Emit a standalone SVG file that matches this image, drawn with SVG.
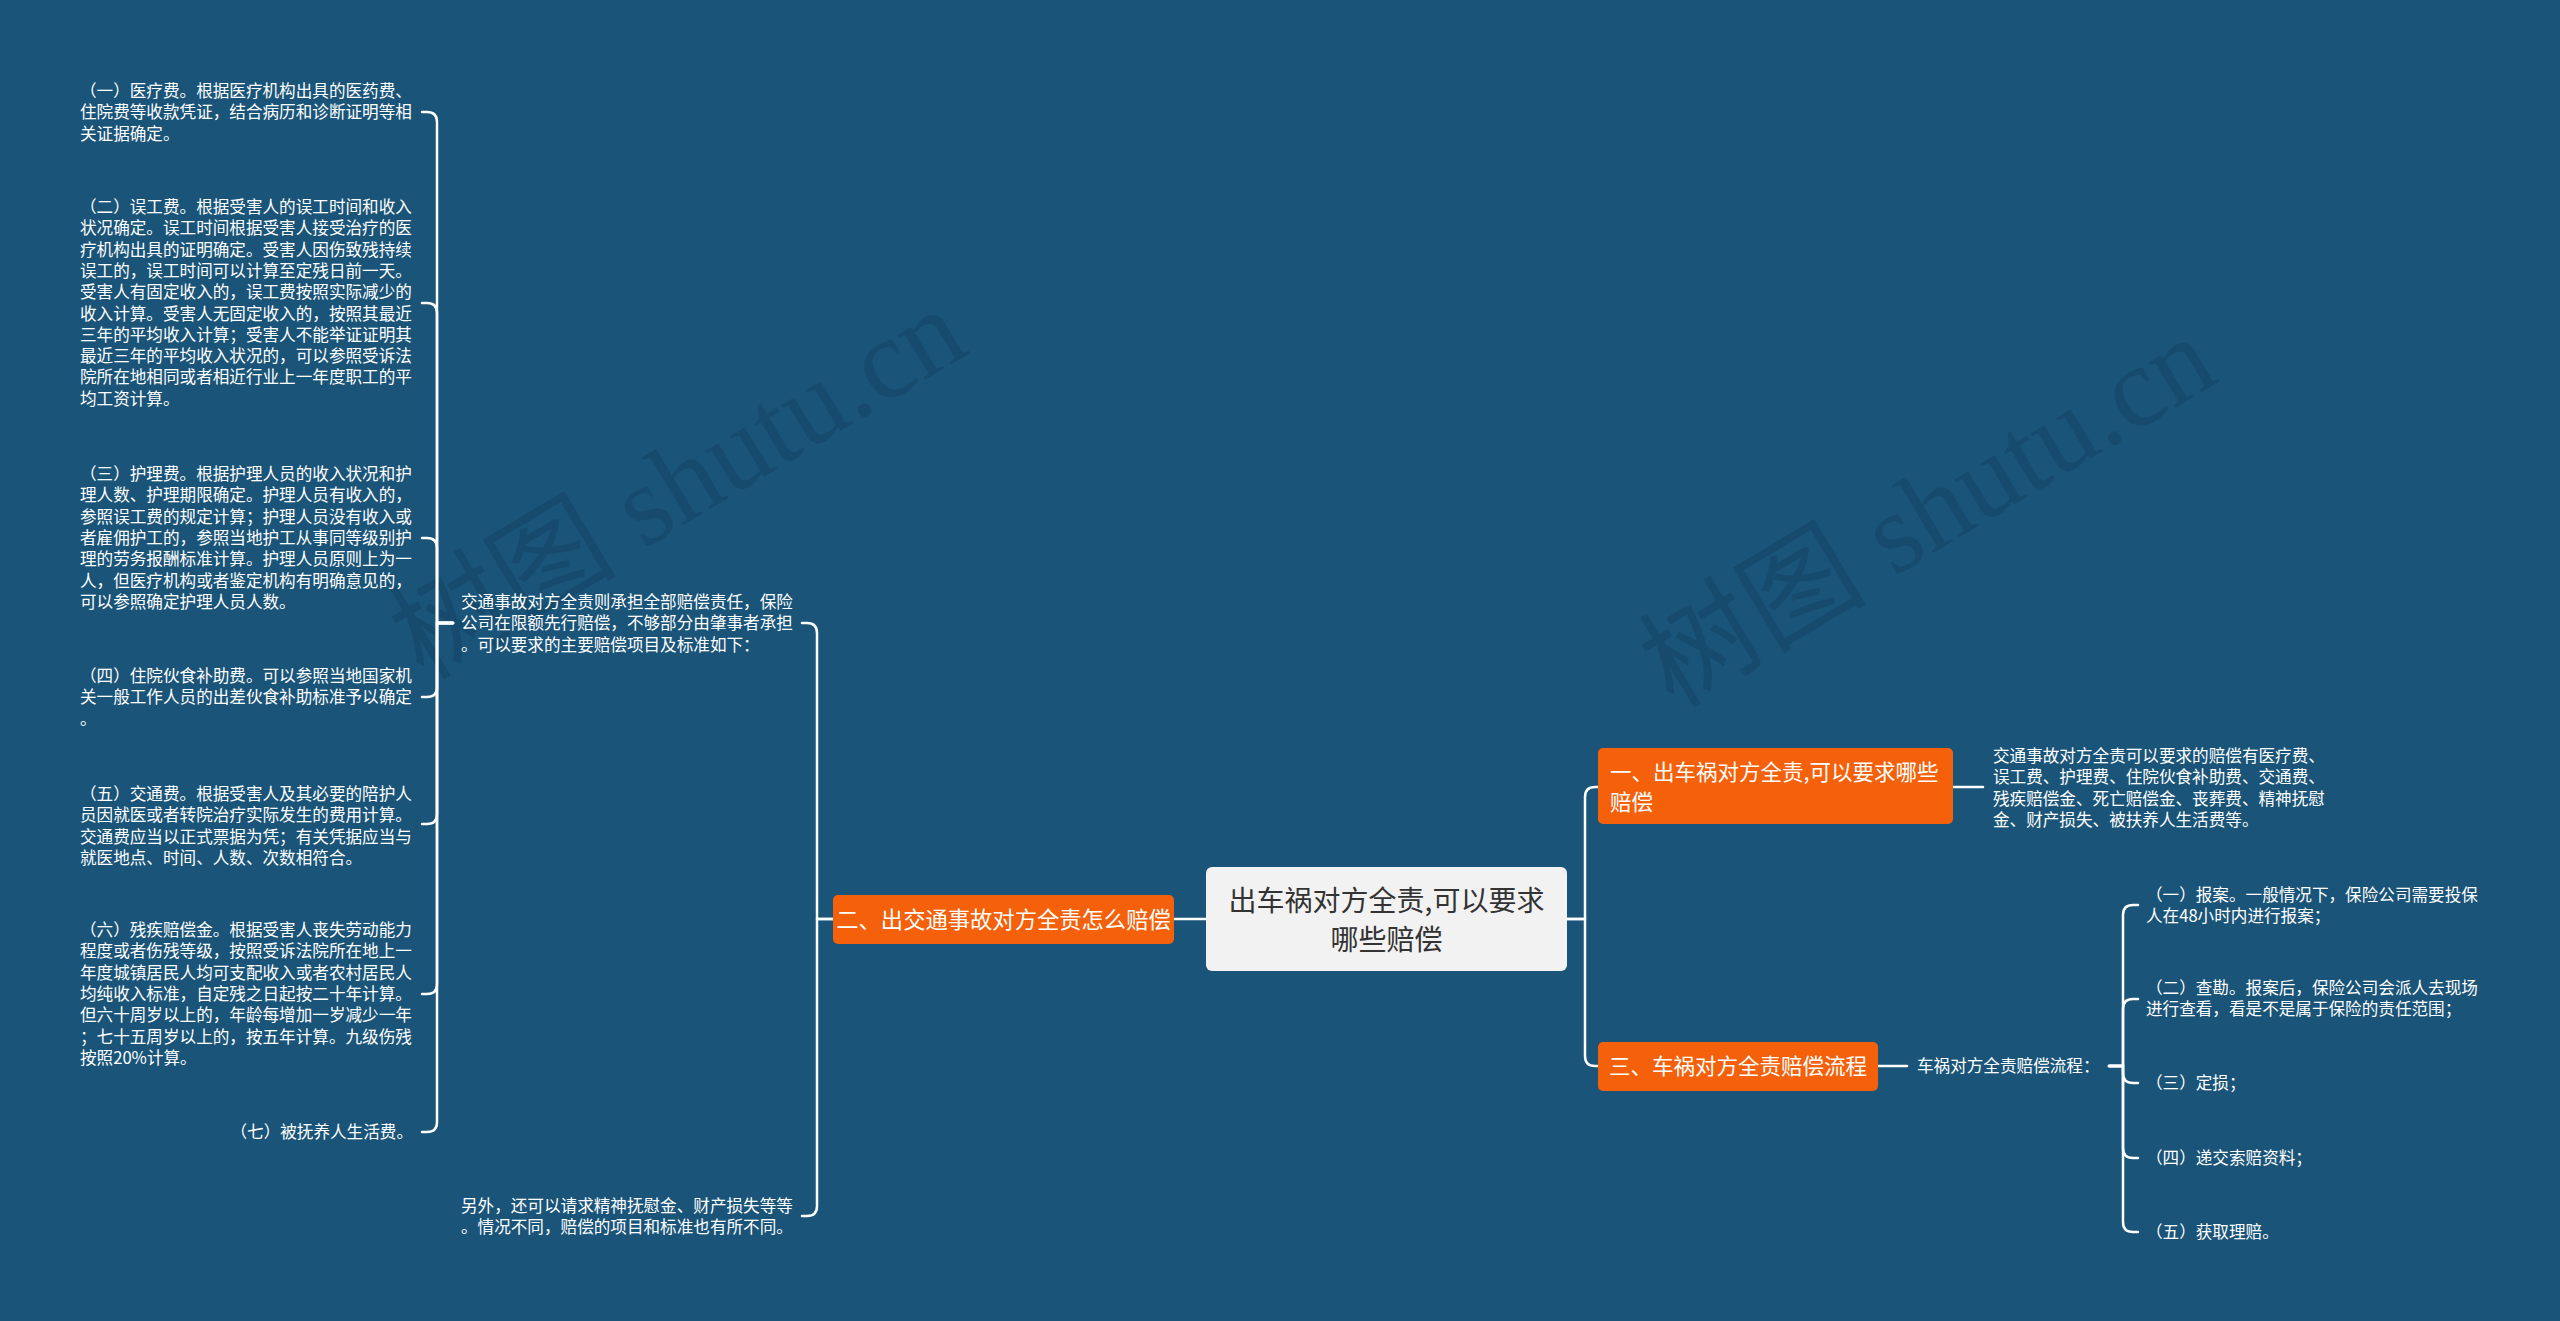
<svg xmlns="http://www.w3.org/2000/svg" width="2560" height="1321" viewBox="0 0 2560 1321">
<style>
.bg{fill:#1a5478}
.wm{fill:#174b6e;font-family:"Liberation Serif","Noto Sans CJK SC",serif;font-size:114px}
.line{fill:none;stroke:#ffffff;stroke-width:2.5;stroke-linecap:round;stroke-linejoin:round}
.leaf{fill:#ffffff;font-family:"Noto Sans CJK SC","Liberation Sans",sans-serif;font-size:16.6px}
.root-box{fill:#f2f2f2}
.root-text{fill:#333333;font-family:"Noto Sans CJK SC","Liberation Sans",sans-serif;font-size:28px}
.sub-box{fill:#f5600a}
.sub-text{fill:#ffffff;font-family:"Noto Sans CJK SC","Liberation Sans",sans-serif;font-size:21.5px}
</style>
<rect class="bg" x="0" y="0" width="2560" height="1321"/>
<g id="watermarks">
<text class="wm" text-anchor="middle" transform="translate(678,484) rotate(-31)" y="38">树图 shutu.cn</text>
<text class="wm" text-anchor="middle" transform="translate(1928,512) rotate(-31)" y="38">树图 shutu.cn</text>
</g>
<g id="connectors">
<path class="line" d="M1567 919 H1585 V797 Q1585 787 1595 787 H1598"/>
<path class="line" d="M1567 919 H1585 V1056 Q1585 1066 1595 1066 H1598"/>
<path class="line" d="M1206 919 H1174"/>
<path class="line" d="M833 919 H817 V633 Q817 623 807 623 H802"/>
<path class="line" d="M833 919 H817 V1206 Q817 1216 807 1216 H802"/>
<path class="line" d="M1953 787 H1983"/>
<path class="line" d="M1878 1066 H1907"/>
<path class="line" d="M453 623 H437 V122 Q437 112 427 112 H422"/>
<path class="line" d="M453 623 H437 V313 Q437 303 427 303 H422"/>
<path class="line" d="M453 623 H437 V548 Q437 538 427 538 H422"/>
<path class="line" d="M453 623 H437 V687 Q437 697 427 697 H422"/>
<path class="line" d="M453 623 H437 V814 Q437 824 427 824 H422"/>
<path class="line" d="M453 623 H437 V984 Q437 994 427 994 H422"/>
<path class="line" d="M453 623 H437 V1122 Q437 1132 427 1132 H422"/>
<path class="line" d="M2109 1066 H2123 V915 Q2123 905 2133 905 H2138"/>
<path class="line" d="M2109 1066 H2123 V1009 Q2123 999 2133 999 H2138"/>
<path class="line" d="M2109 1066 H2123 V1073 Q2123 1083 2133 1083 H2138"/>
<path class="line" d="M2109 1066 H2123 V1148 Q2123 1158 2133 1158 H2138"/>
<path class="line" d="M2109 1066 H2123 V1222 Q2123 1232 2133 1232 H2138"/>
</g>
<g id="root">
<rect class="root-box" x="1206" y="867" width="361" height="104" rx="6"/>
<text class="root-text" text-anchor="middle"><tspan x="1386.5" y="910.6">出车祸对方全责,可以要求</tspan><tspan x="1386.5" y="949.6">哪些赔偿</tspan></text>
</g>
<g id="node-2">
<rect class="sub-box" x="833" y="895" width="341" height="49" rx="5"/>
<text class="sub-text" style="font-size:22.3px" text-anchor="middle" x="1003.5" y="928">二、出交通事故对方全责怎么赔偿</text>
</g>
<g id="node-1">
<rect class="sub-box" x="1598" y="748" width="355" height="76" rx="5"/>
<text class="sub-text"><tspan x="1610" y="780">一、出车祸对方全责,可以要求哪些</tspan><tspan x="1610" y="810">赔偿</tspan></text>
</g>
<g id="node-3">
<rect class="sub-box" x="1598" y="1042" width="280" height="49" rx="5"/>
<text class="sub-text" text-anchor="middle" x="1738" y="1074">三、车祸对方全责赔偿流程</text>
</g>
<g id="node-2-intro">
<text class="leaf"><tspan x="461" y="608">交通事故对方全责则承担全部赔偿责任，保险</tspan><tspan x="461" y="629.3">公司在限额先行赔偿，不够部分由肇事者承担</tspan><tspan x="461" y="650.6">。可以要求的主要赔偿项目及标准如下：</tspan></text>
</g>
<g id="node-2-extra">
<text class="leaf"><tspan x="461" y="1212">另外，还可以请求精神抚慰金、财产损失等等</tspan><tspan x="461" y="1233.3">。情况不同，赔偿的项目和标准也有所不同。</tspan></text>
</g>
<g id="item-1">
<text class="leaf"><tspan x="80" y="97">（一）医疗费。根据医疗机构出具的医药费、</tspan><tspan x="80" y="118.3">住院费等收款凭证，结合病历和诊断证明等相</tspan><tspan x="80" y="139.6">关证据确定。</tspan></text>
</g>
<g id="item-2">
<text class="leaf"><tspan x="80" y="213">（二）误工费。根据受害人的误工时间和收入</tspan><tspan x="80" y="234.3">状况确定。误工时间根据受害人接受治疗的医</tspan><tspan x="80" y="255.6">疗机构出具的证明确定。受害人因伤致残持续</tspan><tspan x="80" y="276.9">误工的，误工时间可以计算至定残日前一天。</tspan><tspan x="80" y="298.2">受害人有固定收入的，误工费按照实际减少的</tspan><tspan x="80" y="319.5">收入计算。受害人无固定收入的，按照其最近</tspan><tspan x="80" y="340.8">三年的平均收入计算；受害人不能举证证明其</tspan><tspan x="80" y="362.1">最近三年的平均收入状况的，可以参照受诉法</tspan><tspan x="80" y="383.4">院所在地相同或者相近行业上一年度职工的平</tspan><tspan x="80" y="404.7">均工资计算。</tspan></text>
</g>
<g id="item-3">
<text class="leaf"><tspan x="80" y="480">（三）护理费。根据护理人员的收入状况和护</tspan><tspan x="80" y="501.3">理人数、护理期限确定。护理人员有收入的，</tspan><tspan x="80" y="522.6">参照误工费的规定计算；护理人员没有收入或</tspan><tspan x="80" y="543.9">者雇佣护工的，参照当地护工从事同等级别护</tspan><tspan x="80" y="565.2">理的劳务报酬标准计算。护理人员原则上为一</tspan><tspan x="80" y="586.5">人，但医疗机构或者鉴定机构有明确意见的，</tspan><tspan x="80" y="607.8">可以参照确定护理人员人数。</tspan></text>
</g>
<g id="item-4">
<text class="leaf"><tspan x="80" y="682">（四）住院伙食补助费。可以参照当地国家机</tspan><tspan x="80" y="703.3">关一般工作人员的出差伙食补助标准予以确定</tspan><tspan x="80" y="724.6">。</tspan></text>
</g>
<g id="item-5">
<text class="leaf"><tspan x="80" y="800">（五）交通费。根据受害人及其必要的陪护人</tspan><tspan x="80" y="821.3">员因就医或者转院治疗实际发生的费用计算。</tspan><tspan x="80" y="842.6">交通费应当以正式票据为凭；有关凭据应当与</tspan><tspan x="80" y="863.9">就医地点、时间、人数、次数相符合。</tspan></text>
</g>
<g id="item-6">
<text class="leaf"><tspan x="80" y="936">（六）残疾赔偿金。根据受害人丧失劳动能力</tspan><tspan x="80" y="957.3">程度或者伤残等级，按照受诉法院所在地上一</tspan><tspan x="80" y="978.6">年度城镇居民人均可支配收入或者农村居民人</tspan><tspan x="80" y="999.9">均纯收入标准，自定残之日起按二十年计算。</tspan><tspan x="80" y="1021.2">但六十周岁以上的，年龄每增加一岁减少一年</tspan><tspan x="80" y="1042.5">；七十五周岁以上的，按五年计算。九级伤残</tspan><tspan x="80" y="1063.8">按照20%计算。</tspan></text>
</g>
<g id="item-7">
<text class="leaf" text-anchor="end" x="413" y="1138">（七）被抚养人生活费。</text>
</g>
<g id="node-1-detail">
<text class="leaf"><tspan x="1993" y="762">交通事故对方全责可以要求的赔偿有医疗费、</tspan><tspan x="1993" y="783.3">误工费、护理费、住院伙食补助费、交通费、</tspan><tspan x="1993" y="804.6">残疾赔偿金、死亡赔偿金、丧葬费、精神抚慰</tspan><tspan x="1993" y="825.9">金、财产损失、被扶养人生活费等。</tspan></text>
</g>
<g id="node-3-intro">
<text class="leaf" x="1917" y="1072">车祸对方全责赔偿流程：</text>
</g>
<g id="step-1">
<text class="leaf"><tspan x="2146" y="901">（一）报案。一般情况下，保险公司需要投保</tspan><tspan x="2146" y="922.3">人在48小时内进行报案；</tspan></text>
</g>
<g id="step-2">
<text class="leaf"><tspan x="2146" y="994">（二）查勘。报案后，保险公司会派人去现场</tspan><tspan x="2146" y="1015.3">进行查看，看是不是属于保险的责任范围；</tspan></text>
</g>
<g id="step-3">
<text class="leaf" x="2146" y="1089">（三）定损；</text>
</g>
<g id="step-4">
<text class="leaf" x="2146" y="1164">（四）递交索赔资料；</text>
</g>
<g id="step-5">
<text class="leaf" x="2146" y="1238">（五）获取理赔。</text>
</g>
</svg>
